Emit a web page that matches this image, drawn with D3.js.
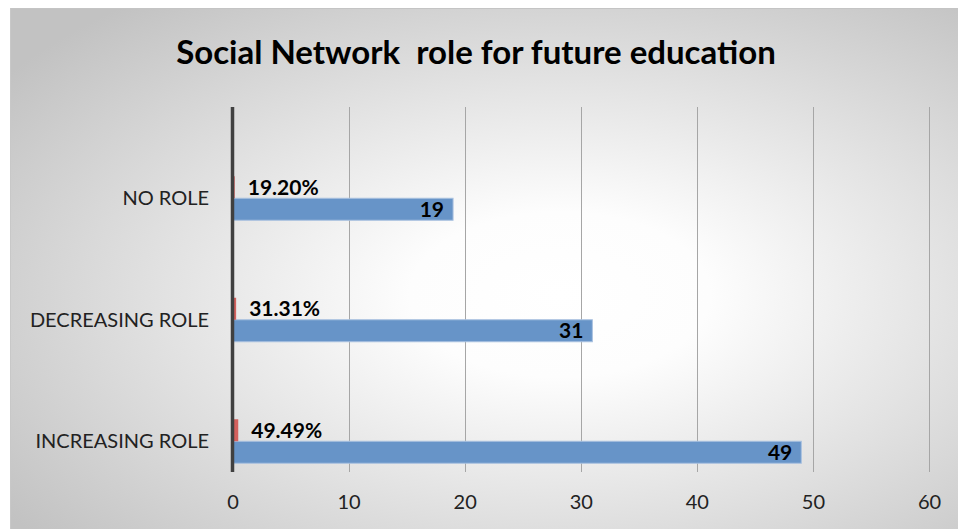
<!DOCTYPE html>
<html>
<head>
<meta charset="utf-8">
<script src="https://cdn.jsdelivr.net/npm/d3@7"></script>
<style>
  html, body { margin: 0; padding: 0; background: #ffffff; }
  svg { display: block; }
</style>
</head>
<body>
<svg id="chart" width="958" height="529"></svg>
<script>
// Survey answers: how social networks will figure in future education
const categories = ["NO ROLE", "DECREASING ROLE", "INCREASING ROLE"];
const counts = [19, 31, 49];
const shares = [0.192, 0.3131, 0.4949];
const xTicks = [0, 10, 20, 30, 40, 50, 60];
const title = "Social Network  role for future education";

const W = 958, H = 529;
const svg = d3.select("#chart");
const font = "Lato, 'Open Sans', sans-serif";

// Chart area with a soft radial fill
const defs = svg.append("defs");
const grad = defs.append("radialGradient")
  .attr("id", "bg")
  .attr("cx", 0.58).attr("cy", 0.55).attr("r", 0.72)
  .attr("fx", 0.58).attr("fy", 0.55);
grad.append("stop").attr("offset", 0).attr("stop-color", "#ffffff");
grad.append("stop").attr("offset", 0.22).attr("stop-color", "#fdfdfd");
grad.append("stop").attr("offset", 1).attr("stop-color", "#c2c2c2");

const area = { x: 10, y: 8, w: W - 10, h: H - 8 };
svg.append("rect")
  .attr("x", area.x).attr("y", area.y)
  .attr("width", area.w).attr("height", area.h)
  .attr("fill", "url(#bg)");
svg.append("line")
  .attr("x1", area.x).attr("x2", W).attr("y1", area.y + 0.5).attr("y2", area.y + 0.5)
  .attr("stroke", "#c4c4c4");
svg.append("line")
  .attr("x1", area.x + 0.5).attr("x2", area.x + 0.5).attr("y1", area.y).attr("y2", H)
  .attr("stroke", "#c8c8c8");

// Title
svg.append("text")
  .attr("x", 476).attr("y", 64)
  .attr("text-anchor", "middle")
  .attr("font-family", font)
  .attr("font-weight", 700)
  .attr("font-size", 33)
  .attr("fill", "#000")
  .style("white-space", "pre")
  .text(title);

// Scales
const plot = { top: 107, bottom: 472 };
const x = d3.scaleLinear().domain([0, 60]).range([232.5, 929]);
const y = d3.scaleBand().domain(categories).range([137.5, 502]);
const barH = 22;

// Vertical gridlines
svg.append("g")
  .selectAll("line")
  .data(xTicks.filter(d => d > 0))
  .join("line")
  .attr("x1", d => Math.round(x(d)) + 0.5)
  .attr("x2", d => Math.round(x(d)) + 0.5)
  .attr("y1", plot.top).attr("y2", plot.bottom)
  .attr("stroke", "#a6a6a6").attr("stroke-width", 1);

// Bottom tick labels
const xAxis = d3.axisBottom(x).tickValues(xTicks).tickSize(0).tickPadding(0);
const gx = svg.append("g")
  .attr("transform", `translate(0, ${plot.bottom + 20})`)
  .call(xAxis);
gx.select(".domain").remove();
gx.selectAll("text")
  .attr("font-family", font)
  .attr("font-size", 20)
  .attr("fill", "#222")
  .attr("dy", "0.85em");

// Count bars (blue) sit just below the category centre
const groups = svg.append("g");
groups.selectAll("rect.count")
  .data(categories)
  .join("rect")
  .attr("class", "count")
  .attr("x", x(0))
  .attr("y", (d) => y(d) + y.bandwidth() / 2)
  .attr("width", (d, i) => x(counts[i]) - x(0))
  .attr("height", barH)
  .attr("fill", "#6794c8")
  .attr("stroke", "#a9c1e0")
  .attr("stroke-width", 1);

// Share bars (red) just above
groups.selectAll("rect.share")
  .data(categories)
  .join("rect")
  .attr("class", "share")
  .attr("x", x(0))
  .attr("y", (d) => y(d) + y.bandwidth() / 2 - barH)
  .attr("width", (d, i) => x(shares[i]) - x(0))
  .attr("height", barH)
  .attr("fill", "#d4605d");

// Category axis line
svg.append("line")
  .attr("x1", x(0)).attr("x2", x(0))
  .attr("y1", plot.top).attr("y2", plot.bottom)
  .attr("stroke", "#404040").attr("stroke-width", 3.5);

// Category labels
svg.append("g")
  .selectAll("text")
  .data(categories)
  .join("text")
  .attr("x", 209)
  .attr("y", d => y(d) + y.bandwidth() / 2)
  .attr("dy", "0.35em")
  .attr("text-anchor", "end")
  .attr("font-family", font)
  .attr("font-size", 20)
  .attr("fill", "#222")
  .text(d => d);

// Value labels inside the end of the count bars
svg.append("g")
  .selectAll("text")
  .data(categories)
  .join("text")
  .attr("x", (d, i) => x(counts[i]) - 9)
  .attr("y", d => y(d) + y.bandwidth() / 2 + barH / 2)
  .attr("dy", "0.36em")
  .attr("text-anchor", "end")
  .attr("font-family", font)
  .attr("font-weight", 700)
  .attr("font-size", 21)
  .attr("fill", "#000")
  .text((d, i) => counts[i]);

// Percentage labels beside the share bars
const pct = d3.format(".2%");
svg.append("g")
  .selectAll("text")
  .data(categories)
  .join("text")
  .attr("x", (d, i) => x(shares[i]) + 13)
  .attr("y", d => y(d) + y.bandwidth() / 2 - barH / 2)
  .attr("dy", "0.36em")
  .attr("text-anchor", "start")
  .attr("font-family", font)
  .attr("font-weight", 700)
  .attr("font-size", 21)
  .attr("fill", "#000")
  .text((d, i) => pct(shares[i]));
</script>
</body>
</html>
